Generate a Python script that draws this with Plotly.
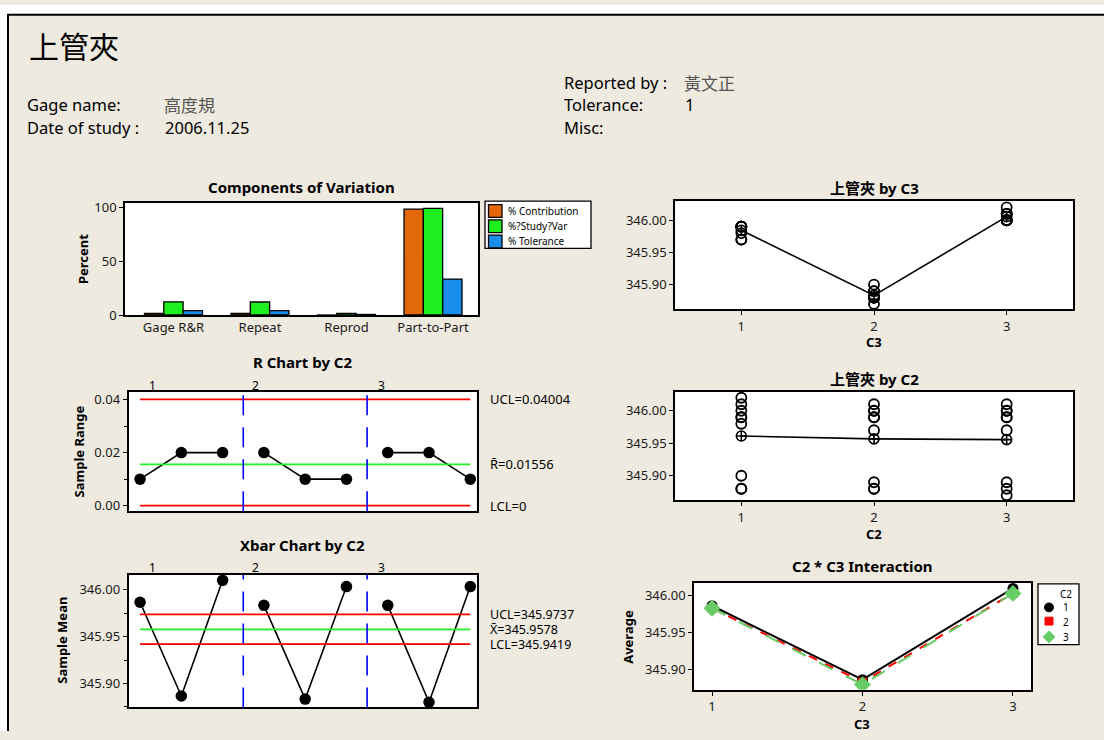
import plotly.graph_objects as go

W, H = 1104, 740

# ---------------- data ----------------
# Three trials per operator (C2) for each part (C3)
op1_trials = [[345.98, 345.99, 345.99], [345.88, 345.88, 345.90], [346.00, 346.01, 346.02]]
op2_trials = [[345.97, 345.99, 345.99], [345.88, 345.88, 345.89], [346.00, 346.00, 346.01]]
op3_trials = [[345.97, 345.99, 345.99], [345.87, 345.88, 345.89], [346.00, 346.00, 346.01]]
operators = [1, 2, 3]
parts = [1, 2, 3]

components = ["Gage R&R", "Repeat", "Reprod", "Part-to-Part"]
pct_contribution = [1.49, 1.47, 0.02, 98.51]
pct_study_var = [12.20, 12.12, 1.50, 99.25]
pct_tolerance = [4.11, 4.08, 0.51, 33.43]

r_ucl, r_center, r_lcl = 0.04004, 0.01556, 0.0
x_ucl, x_center, x_lcl = 345.9737, 345.9578, 345.9419

header_left = [("Gage name:", "高度規"), ("Date of study :", "2006.11.25")]
header_right = [("Reported by :", "黃文正"), ("Tolerance:", "1"), ("Misc:", "")]

# ---------------- styling ----------------
FONT = "'Noto Sans', 'Noto Sans CJK TC', sans-serif"
CJK = "'Noto Sans CJK TC', 'Noto Sans', sans-serif"
BEIGE = "#EEEAE0"
C_ORANGE, C_GREEN, C_BLUE = "#E2680A", "#1EEE1E", "#1A8DEA"
C_RED, C_LIME, C_DASHBLUE, C_OPGREEN = "#FF0000", "#22EE22", "#0000FF", "#66CC66"

all_trials = [op1_trials, op2_trials, op3_trials]


def mean(v):
    return sum(v) / len(v)


def PX(x):
    return x / W


def PY(y):
    return 1 - y / H


fig = go.Figure()

# ---- subplot boxes in pixels: x0, x1, y_top, y_bottom
boxes = {
    1: (125, 478, 202, 316),      # components of variation
    2: (128.5, 476.5, 394, 516),  # R chart
    3: (128.5, 476.5, 581, 716),  # Xbar chart
    4: (675, 1073, 200, 310),     # by C3
    5: (675, 1073, 394, 505),     # by C2
    6: (694, 1031, 589, 698),     # interaction
}


def ax_name(i, kind):
    return kind if i == 1 else f"{kind}{i}"


tickfont = dict(family=FONT, size=13, color="#1a1a1a")
for i, (x0, x1, yt, yb) in boxes.items():
    common = dict(showline=True, linecolor="black", linewidth=1.6, mirror=True,
                  showgrid=False, zeroline=False, tickfont=tickfont,
                  ticks="outside", ticklen=4, tickcolor="black", tickwidth=1.2)
    fig.layout[ax_name(i, "xaxis")] = dict(domain=[PX(x0), PX(x1)], anchor=ax_name(i, "y"), **common)
    fig.layout[ax_name(i, "yaxis")] = dict(domain=[PY(yb), PY(yt)], anchor=ax_name(i, "x"), **common)

# ---------------- components of variation ----------------
for name, vals, col in [("% Contribution", pct_contribution, C_ORANGE),
                        ("%?Study?Var", pct_study_var, C_GREEN),
                        ("% Tolerance", pct_tolerance, C_BLUE)]:
    fig.add_trace(go.Bar(x=components, y=vals, name=name,
                         marker=dict(color=col, line=dict(color="black", width=1.3)),
                         xaxis="x", yaxis="y", showlegend=False))
fig.update_layout(barmode="group", bargap=0.33, bargroupgap=0)
fig.layout.xaxis.update(ticks="", range=[-0.56, 3.52])
fig.layout.yaxis.update(range=[0, 104], tickvals=[0, 50, 100])

# ---------------- R and Xbar charts ----------------
sub_x = list(range(1, 10))
ranges = [max(t) - min(t) for op in all_trials for t in op]
means = [mean(t) for op in all_trials for t in op]

for k in range(3):
    xs = sub_x[3 * k:3 * k + 3]
    fig.add_trace(go.Scatter(x=xs, y=ranges[3 * k:3 * k + 3], mode="lines+markers", xaxis="x2", yaxis="y2",
                             line=dict(color="black", width=1.6), marker=dict(size=11.5, color="black"),
                             showlegend=False))
    fig.add_trace(go.Scatter(x=xs, y=means[3 * k:3 * k + 3], mode="lines+markers", xaxis="x3", yaxis="y3",
                             line=dict(color="black", width=1.6), marker=dict(size=11.5, color="black"),
                             showlegend=False))

for ax, lines in [(2, [(r_ucl, C_RED), (r_center, C_LIME), (r_lcl, C_RED)]),
                  (3, [(x_ucl, C_RED), (x_center, C_LIME), (x_lcl, C_RED)])]:
    for val, col in lines:
        fig.add_trace(go.Scatter(x=[sub_x[0], sub_x[-1]], y=[val, val], mode="lines", xaxis=f"x{ax}",
                                 yaxis=f"y{ax}", line=dict(color=col, width=1.8), showlegend=False,
                                 hoverinfo="skip"))
    for b in [3.5, 6.5]:
        fig.add_shape(type="line", xref=f"x{ax}", yref=f"y{ax} domain", x0=b, x1=b, y0=0, y1=1,
                      line=dict(color=C_DASHBLUE, width=1.6, dash="20px,12px"))

fig.layout.xaxis2.update(range=[0.72, 9.15], showticklabels=False, ticks="")
fig.layout.yaxis2.update(range=[-0.0021, 0.043], tickvals=[0, 0.02, 0.04], tickformat=".2f",
                         minor=dict(tickvals=[0.01, 0.03], ticks="outside", ticklen=3, tickcolor="black"))
fig.layout.xaxis3.update(range=[0.72, 9.15], showticklabels=False, ticks="")
fig.layout.yaxis3.update(range=[345.8744, 346.0157], tickvals=[345.90, 345.95, 346.00], tickformat=".2f",
                         minor=dict(tickvals=[345.875, 345.925, 345.975], ticks="outside", ticklen=3,
                                    tickcolor="black"))

# ---------------- by C3 (parts) and by C2 (operators) ----------------
part_vals = [[v for op in all_trials for v in op[p]] for p in range(3)]
op_vals = [[v for t in op for v in t] for op in all_trials]

for ax, groups, labels in [(4, part_vals, parts), (5, op_vals, operators)]:
    xs, ys = [], []
    for lab, g in zip(labels, groups):
        xs += [lab] * len(g)
        ys += g
    fig.add_trace(go.Scatter(x=xs, y=ys, mode="markers", xaxis=f"x{ax}", yaxis=f"y{ax}",
                             marker=dict(symbol="circle-open", size=10, color="black", line=dict(width=1.8)),
                             showlegend=False))
    fig.add_trace(go.Scatter(x=labels, y=[mean(g) for g in groups], mode="lines+markers", xaxis=f"x{ax}",
                             yaxis=f"y{ax}", line=dict(color="black", width=1.6),
                             marker=dict(symbol="circle-cross-open", size=10, color="black", line=dict(width=1.6)),
                             showlegend=False))
    fig.layout[f"xaxis{ax}"].update(range=[0.5, 3.5], tickvals=[1, 2, 3])
    fig.layout[f"yaxis{ax}"].update(range=[345.862, 346.0295], tickvals=[345.90, 345.95, 346.00],
                                    tickformat=".2f")

# ---------------- interaction ----------------
styles = [dict(line=dict(color="black", width=2), marker=dict(symbol="circle", size=11, color="black")),
          dict(line=dict(color=C_RED, width=2, dash="dash"), marker=dict(symbol="square", size=9, color=C_RED)),
          dict(line=dict(color=C_OPGREEN, width=2, dash="longdash"),
               marker=dict(symbol="diamond", size=13, color=C_OPGREEN))]
for op, st in zip(all_trials, styles):
    fig.add_trace(go.Scatter(x=parts, y=[mean(t) for t in op], mode="lines+markers", xaxis="x6", yaxis="y6",
                             showlegend=False, **st))
fig.layout.xaxis6.update(range=[0.88, 3.12], tickvals=[1, 2, 3])
fig.layout.yaxis6.update(range=[345.873, 346.0176], tickvals=[345.90, 345.95, 346.00], tickformat=".2f")

# ---------------- page frame ----------------
fig.add_shape(type="rect", xref="paper", yref="paper", x0=0, x1=1, y0=PY(9), y1=1, fillcolor="white",
              line_width=0, layer="below")
fig.add_shape(type="rect", xref="paper", yref="paper", x0=0, x1=PX(7), y0=0, y1=1, fillcolor="white",
              line_width=0, layer="below")
fig.add_shape(type="line", xref="paper", yref="paper", x0=PX(7), x1=1, y0=PY(10), y1=PY(10),
              line=dict(color="black", width=2))
fig.add_shape(type="line", xref="paper", yref="paper", x0=PX(8), x1=PX(8), y0=PY(10), y1=0,
              line=dict(color="black", width=2))

ann = []


def text(t, x, y, size=13, color="black", xanchor="left", angle=0, family=FONT):
    ann.append(dict(text=t, x=PX(x), y=PY(y), xref="paper", yref="paper", showarrow=False, xanchor=xanchor,
                    yanchor="middle", textangle=angle, font=dict(family=family, size=size, color=color)))


# legend for the components chart
fig.add_shape(type="rect", xref="paper", yref="paper", x0=PX(485), x1=PX(591), y0=PY(248), y1=PY(200),
              fillcolor="white", line=dict(color="black", width=1.3))
for (name, col), yc in zip([("% Contribution", C_ORANGE), ("%?Study?Var", C_GREEN), ("% Tolerance", C_BLUE)],
                           [210, 225.5, 241]):
    fig.add_shape(type="rect", xref="paper", yref="paper", x0=PX(488.5), x1=PX(502), y0=PY(yc + 6.5),
                  y1=PY(yc - 6.5), fillcolor=col, line=dict(color="black", width=1.3))
    text(name, 506, yc, size=10)

# legend for the interaction chart
fig.add_shape(type="rect", xref="paper", yref="paper", x0=PX(1038), x1=PX(1079), y0=PY(652), y1=PY(590),
              fillcolor="white", line=dict(color="black", width=1.3))
text("C2", 1058, 600, size=10)
fig.add_shape(type="circle", xref="paper", yref="paper", x0=PX(1044.5), x1=PX(1053.5), y0=PY(618.5),
              y1=PY(609.5), fillcolor="black", line=dict(color="black", width=1))
fig.add_shape(type="rect", xref="paper", yref="paper", x0=PX(1045), x1=PX(1053), y0=PY(632), y1=PY(624),
              fillcolor=C_RED, line=dict(color=C_RED, width=1))
fig.add_shape(type="path", xref="paper", yref="paper",
              path=f"M {PX(1049)},{PY(638)} L {PX(1055)},{PY(644)} L {PX(1049)},{PY(650)} L {PX(1043)},{PY(644)} Z",
              fillcolor=C_OPGREEN, line=dict(color=C_OPGREEN, width=1))
for lab, yc in zip(operators, [614, 629, 644]):
    text(str(lab), 1061, yc, size=10)

# ---------------- header ----------------
text("上管夾", 27, 41, size=30, family=CJK)
for (lab, val), yc in zip(header_left, [101, 125]):
    text(lab, 25, yc, size=16.5)
    if val[0].isdigit():
        text(val, 163, yc, size=16.5)
    else:
        text(val, 162, yc, size=17, color="#555555", family=CJK)
for (lab, val), yc in zip(header_right, [79, 101, 125]):
    text(lab, 562, yc, size=16.5)
    if val and val[0].isdigit():
        text(val, 683, yc, size=16.5)
    elif val:
        text(val, 682, yc, size=17, color="#555555", family=CJK)

# chart titles
for t, i, y in [("Components of Variation", 1, 186), ("R Chart by C2", 2, 364), ("Xbar Chart by C2", 3, 550),
                ("上管夾 by C3", 4, 187), ("上管夾 by C2", 5, 381), ("C2 * C3 Interaction", 6, 572)]:
    x0, x1, _, _ = boxes[i]
    text(f"<b>{t}</b>", (x0 + x1) / 2, y, size=15, xanchor="center")

# axis titles
text("<b>Percent</b>", 83, 259, size=13, xanchor="center", angle=-90)
text("<b>Sample Range</b>", 79, 455, size=13, xanchor="center", angle=-90)
text("<b>Sample Mean</b>", 62, 648, size=13, xanchor="center", angle=-90)
text("<b>Average</b>", 628, 644, size=13, xanchor="center", angle=-90)
text("<b>C3</b>", 874, 343, size=13, xanchor="center")
text("<b>C2</b>", 874, 539, size=13, xanchor="center")
text("<b>C3</b>", 862, 733, size=13, xanchor="center")

# operator group labels above the R and Xbar charts
for lab, xc in zip(operators, [152, 255.5, 381]):
    text(str(lab), xc, 388, size=12, xanchor="center")
    text(str(lab), xc, 573, size=12, xanchor="center")

# control limit labels, placed at the limit values
for lab, val in [(f"UCL={r_ucl:.5f}", r_ucl), (f"R\u0304={r_center:.5f}", r_center), (f"LCL={r_lcl:g}", r_lcl)]:
    ann.append(dict(text=lab, x=PX(488), y=val, xref="paper", yref="y2", showarrow=False, xanchor="left",
                    yanchor="middle", font=dict(family=FONT, size=13, color="black")))
for lab, val in [(f"UCL={x_ucl:.4f}", x_ucl), (f"X\u0304={x_center:.4f}", x_center), (f"LCL={x_lcl:.4f}", x_lcl)]:
    ann.append(dict(text=lab, x=PX(488), y=val, xref="paper", yref="y3", showarrow=False, xanchor="left",
                    yanchor="middle", font=dict(family=FONT, size=12.5, color="black")))

fig.update_layout(annotations=ann, width=W, height=H, margin=dict(l=0, r=0, t=0, b=0),
                  paper_bgcolor=BEIGE, plot_bgcolor="white", showlegend=False)

fig.write_html("out.html", config=dict(displayModeBar=False))
